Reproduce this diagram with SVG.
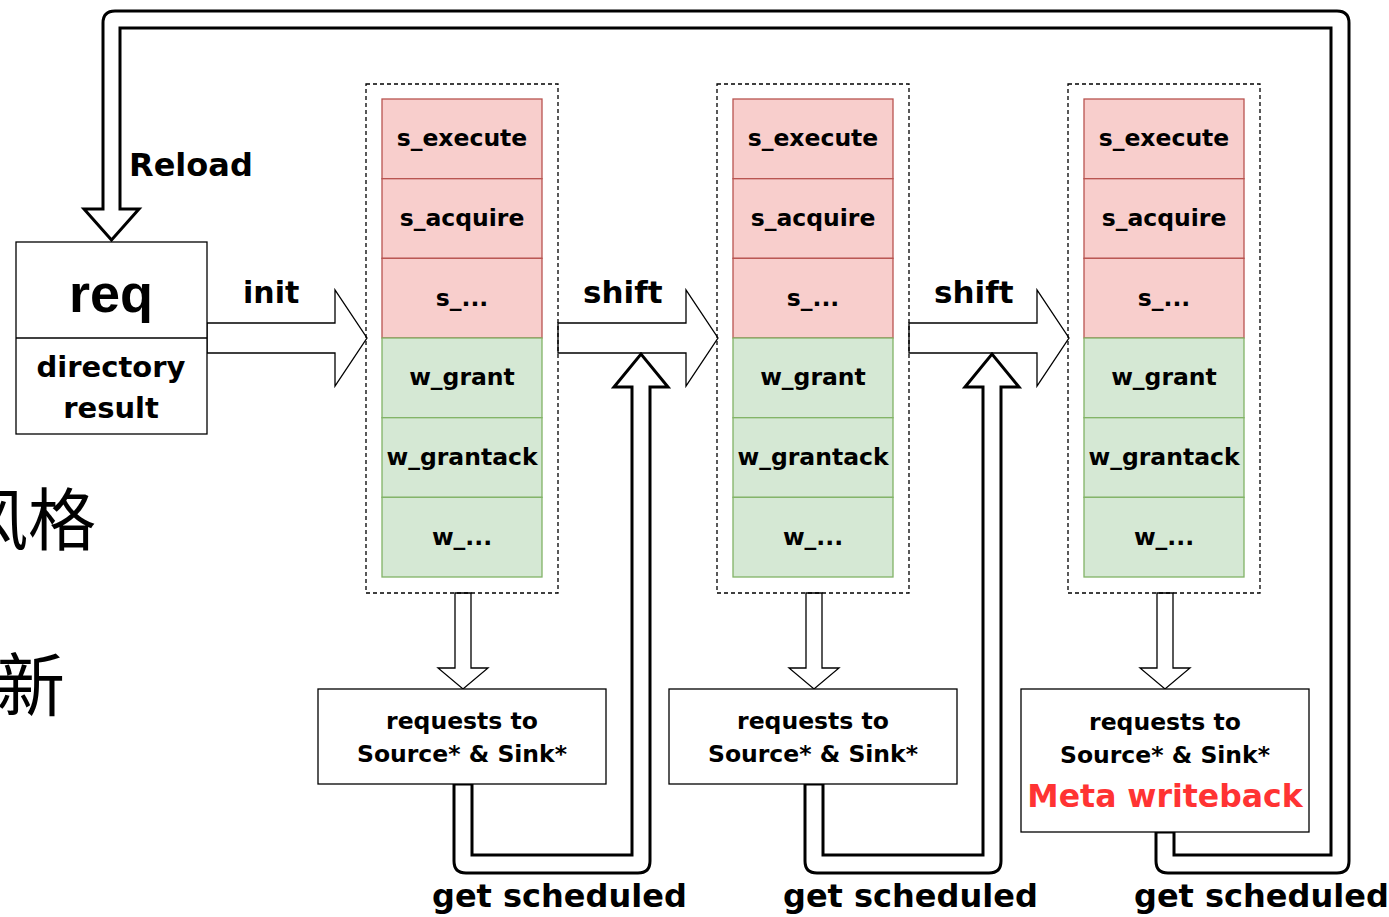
<svg xmlns="http://www.w3.org/2000/svg" width="1389" height="917" viewBox="0 0 1389 917">
<style>
.t{font-family:"DejaVu Sans","Liberation Sans",sans-serif;font-weight:bold;fill:#000}
.cell{font-size:23.5px;text-anchor:middle;dominant-baseline:central}
.red{fill:#f8cecc;stroke:#b85450;stroke-width:1.3}
.grn{fill:#d5e8d4;stroke:#82b366;stroke-width:1.3}
.dash{fill:none;stroke:#000;stroke-width:1.3;stroke-dasharray:4 3}
.box{fill:#fff;stroke:#000;stroke-width:1.3}
.thin{fill:#fff;stroke:#000;stroke-width:1.3;stroke-linejoin:miter}
.thick{fill:#fff;stroke:#000;stroke-width:3;stroke-linejoin:miter}
.cjk{font-family:"Noto Sans CJK SC","Noto Sans CJK JP",sans-serif;fill:#000}
</style>
<rect width="1389" height="917" fill="#fff"/>
<g id="side-text">
<text class="cjk" x="-40" y="545" font-size="68">风格</text>
<text class="cjk" x="-4" y="711" font-size="69">新</text>
</g>
<g id="connectors">
<path class="thin" d="M207,323 L335,323 L335,290 L367,338 L335,386 L335,353 L207,353 Z"/>
<path class="thin" d="M558,323 L686,323 L686,290 L718,338 L686,386 L686,353 L558,353 Z"/>
<path class="thin" d="M909,323 L1037,323 L1037,290 L1069,338 L1037,386 L1037,353 L909,353 Z"/>
<path class="thin" d="M455,593 L455,668 L438,668 L463,689 L488,668 L471,668 L471,593 Z"/>
<path class="thin" d="M806,593 L806,668 L789,668 L814,689 L839,668 L822,668 L822,593 Z"/>
<path class="thin" d="M1157,593 L1157,668 L1140,668 L1165,689 L1190,668 L1173,668 L1173,593 Z"/>
<path class="thick" d="M454,784 L454,861 Q454,873 466,873 L638,873 Q650,873 650,861 L650,387 L668,387 L641,354 L614,387 L632,387 L632,855 L472,855 L472,784 Z"/>
<path class="thick" d="M805,784 L805,861 Q805,873 817,873 L989,873 Q1001,873 1001,861 L1001,387 L1019,387 L992,354 L965,387 L983,387 L983,855 L823,855 L823,784 Z"/>
<path class="thick" d="M1156,832 L1156,861 Q1156,873 1168,873 L1337,873 Q1349,873 1349,861 L1349,23 Q1349,11 1337,11 L115,11 Q103,11 103,23 L103,209 L84,209 L111.5,240 L139,209 L120,209 L120,28 L1331,28 L1331,855 L1174,855 L1174,832 Z"/>
</g>
<g id="labels">
<text class="t" x="129" y="176" font-size="32">Reload</text>
<text class="t" x="243" y="303" font-size="30">init</text>
<text class="t" x="583" y="303" font-size="31">shift</text>
<text class="t" x="934" y="303" font-size="31">shift</text>
<text class="t" x="432" y="907" font-size="32">get scheduled</text>
<text class="t" x="783" y="907" font-size="32">get scheduled</text>
<text class="t" x="1134" y="907" font-size="32">get scheduled</text>
</g>
<g id="req">
<rect class="box" x="16" y="242" width="191" height="192"/>
<line x1="16" y1="338" x2="207" y2="338" stroke="#000" stroke-width="1.3"/>
<text class="t" x="111" y="312" font-size="54" text-anchor="middle" style="font-family:'Liberation Sans',Arial,sans-serif">req</text>
<text class="t" x="111" y="377" font-size="29" text-anchor="middle">directory</text>
<text class="t" x="111" y="418" font-size="29" text-anchor="middle">result</text>
</g>
<g id="stage1">
<rect class="dash" x="366" y="84" width="192" height="509"/>
<rect class="red" x="382" y="99" width="160" height="79.7"/>
<rect class="red" x="382" y="178.7" width="160" height="79.7"/>
<rect class="red" x="382" y="258.3" width="160" height="79.7"/>
<rect class="grn" x="382" y="338" width="160" height="79.7"/>
<rect class="grn" x="382" y="417.7" width="160" height="79.7"/>
<rect class="grn" x="382" y="497.3" width="160" height="79.7"/>
<text class="t cell" x="462" y="138">s_execute</text>
<text class="t cell" x="462" y="218">s_acquire</text>
<text class="t cell" x="462" y="298">s_...</text>
<text class="t cell" x="462" y="377">w_grant</text>
<text class="t cell" x="462" y="457">w_grantack</text>
<text class="t cell" x="462" y="537">w_...</text>
</g>
<g id="stage2">
<rect class="dash" x="717" y="84" width="192" height="509"/>
<rect class="red" x="733" y="99" width="160" height="79.7"/>
<rect class="red" x="733" y="178.7" width="160" height="79.7"/>
<rect class="red" x="733" y="258.3" width="160" height="79.7"/>
<rect class="grn" x="733" y="338" width="160" height="79.7"/>
<rect class="grn" x="733" y="417.7" width="160" height="79.7"/>
<rect class="grn" x="733" y="497.3" width="160" height="79.7"/>
<text class="t cell" x="813" y="138">s_execute</text>
<text class="t cell" x="813" y="218">s_acquire</text>
<text class="t cell" x="813" y="298">s_...</text>
<text class="t cell" x="813" y="377">w_grant</text>
<text class="t cell" x="813" y="457">w_grantack</text>
<text class="t cell" x="813" y="537">w_...</text>
</g>
<g id="stage3">
<rect class="dash" x="1068" y="84" width="192" height="509"/>
<rect class="red" x="1084" y="99" width="160" height="79.7"/>
<rect class="red" x="1084" y="178.7" width="160" height="79.7"/>
<rect class="red" x="1084" y="258.3" width="160" height="79.7"/>
<rect class="grn" x="1084" y="338" width="160" height="79.7"/>
<rect class="grn" x="1084" y="417.7" width="160" height="79.7"/>
<rect class="grn" x="1084" y="497.3" width="160" height="79.7"/>
<text class="t cell" x="1164" y="138">s_execute</text>
<text class="t cell" x="1164" y="218">s_acquire</text>
<text class="t cell" x="1164" y="298">s_...</text>
<text class="t cell" x="1164" y="377">w_grant</text>
<text class="t cell" x="1164" y="457">w_grantack</text>
<text class="t cell" x="1164" y="537">w_...</text>
</g>
<g id="requests1">
<rect class="box" x="318" y="689" width="288" height="95"/>
<text class="t" x="462" y="729" font-size="23.5" text-anchor="middle">requests to</text>
<text class="t" x="462" y="762" font-size="23.5" text-anchor="middle">Source* &amp; Sink*</text>
</g>
<g id="requests2">
<rect class="box" x="669" y="689" width="288" height="95"/>
<text class="t" x="813" y="729" font-size="23.5" text-anchor="middle">requests to</text>
<text class="t" x="813" y="762" font-size="23.5" text-anchor="middle">Source* &amp; Sink*</text>
</g>
<g id="requests3">
<rect class="box" x="1021" y="689" width="288" height="143"/>
<text class="t" x="1165" y="730" font-size="23.5" text-anchor="middle">requests to</text>
<text class="t" x="1165" y="763" font-size="23.5" text-anchor="middle">Source* &amp; Sink*</text>
<text class="t" x="1165" y="807" font-size="31.5" text-anchor="middle" style="fill:#ff3333">Meta writeback</text>
</g>
</svg>
